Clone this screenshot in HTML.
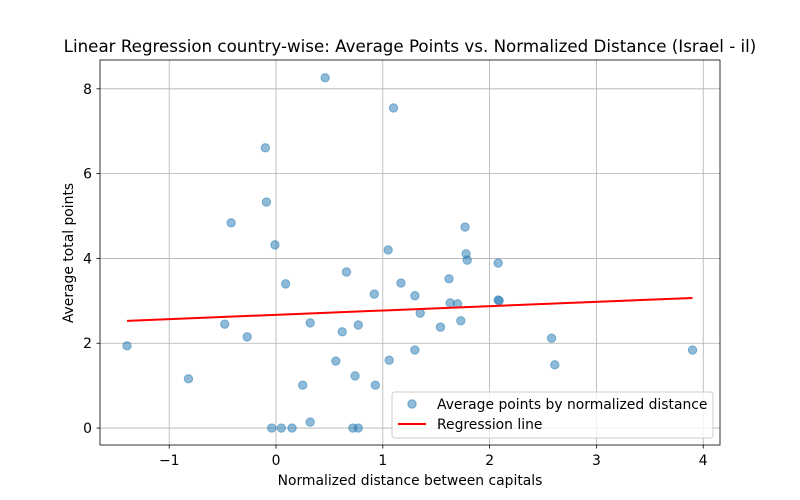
<!DOCTYPE html>
<html><head><meta charset="utf-8"><style>
body{margin:0;background:#fff;}
svg{display:block;font-family:"DejaVu Sans","Liberation Sans",sans-serif;}
</style></head><body>
<svg id="chart" width="800" height="500"></svg>
<script>
const xs=[-1.395,-0.82,-0.42,-0.48,-0.27,-0.10,-0.09,-0.01,0.09,-0.04,0.05,0.15,0.25,0.32,0.32,0.46,0.56,0.62,0.66,0.74,0.77,0.72,0.77,0.92,0.93,1.05,1.06,1.10,1.17,1.30,1.30,1.35,1.54,1.62,1.63,1.70,1.73,1.77,1.78,1.79,2.08,2.08,2.09,2.58,2.61,3.90];
const ys=[1.94,1.16,4.84,2.45,2.15,6.61,5.33,4.32,3.40,0,0,0,1.01,2.48,0.14,8.26,1.58,2.27,3.68,1.23,2.43,0,0,3.16,1.01,4.20,1.60,7.55,3.42,3.12,1.84,2.71,2.38,3.52,2.95,2.93,2.53,4.74,4.11,3.96,3.89,3.02,3.00,2.12,1.49,1.84];
const xTicks=[-1,0,1,2,3,4];
const yTicks=[0,2,4,6,8];
const regSlope=0.102, regIntercept=2.67;
const L=100,R=720,T=60,B=445,xMin=-1.648,xMax=4.157,yMin=-0.40,yMax=8.68;
const sx=v=>L+(v-xMin)/(xMax-xMin)*(R-L);
const sy=v=>B-(v-yMin)/(yMax-yMin)*(B-T);
const svg=document.getElementById('chart');
const NS='http://www.w3.org/2000/svg';
function mk(tag,attrs,parent){const e=document.createElementNS(NS,tag);for(const k in attrs)e.setAttribute(k,attrs[k]);(parent||svg).appendChild(e);return e;}
function txt(s,attrs){const e=mk('text',attrs);e.textContent=s;return e;}
xTicks.forEach(t=>{const x=sx(t);
const g=mk('line',{x1:x,x2:x,y1:T,y2:B,stroke:'#b0b0b0','stroke-width':0.8});


mk('line',{x1:x,x2:x,y1:B,y2:B+3.5,stroke:'#000','stroke-width':0.8});
const l=txt(t<0?'\u2212'+(-t):String(t),{x:x,y:B+20,'font-size':13.9,'text-anchor':'middle'});

});
yTicks.forEach(t=>{const y=sy(t);
const g=mk('line',{x1:L,x2:R,y1:y,y2:y,stroke:'#b0b0b0','stroke-width':0.8});


mk('line',{x1:L-3.5,x2:L,y1:y,y2:y,stroke:'#000','stroke-width':0.8});
const l=txt(String(t),{x:L-8,y:y+5,'font-size':13.9,'text-anchor':'end'});

});
xs.forEach((x,i)=>{const c=mk('circle',{cx:sx(x),cy:sy(ys[i]),r:4.2,fill:'#1f77b4','fill-opacity':0.5,stroke:'#1f77b4','stroke-opacity':0.5});

});
const xa=Math.min(...xs),xb=Math.max(...xs);
const rl=mk('line',{x1:sx(xa),y1:sy(regIntercept+regSlope*xa),x2:sx(xb),y2:sy(regIntercept+regSlope*xb),stroke:'red','stroke-width':2});


const fr=mk('rect',{x:L,y:T,width:R-L,height:B-T,fill:'none',stroke:'#000','stroke-width':0.8});


const tt=txt('Linear Regression country-wise: Average Points vs. Normalized Distance (Israel - il)',{x:410,y:52,'font-size':16.7,'text-anchor':'middle'});


const xt=txt('Normalized distance between capitals',{x:410,y:485,'font-size':13.9,'text-anchor':'middle'});


const yt=txt('Average total points',{x:0,y:0,'font-size':13.9,'text-anchor':'middle',transform:'translate(73,253) rotate(-90)'});


const lg=mk('g',{});


mk('rect',{x:392,y:392,width:321,height:46,rx:3,fill:'#fff','fill-opacity':0.8,stroke:'#ccc'},lg);
const lc=mk('circle',{cx:412,cy:404,r:4.2,fill:'#1f77b4','fill-opacity':0.5,stroke:'#1f77b4','stroke-opacity':0.5},lg);


const t1=mk('text',{x:437,y:409,'font-size':13.9},lg);t1.textContent='Average points by normalized distance';
const ll=mk('line',{x1:398,x2:426,y1:424,y2:424,stroke:'red','stroke-width':2},lg);


const t2=mk('text',{x:437,y:429,'font-size':13.9},lg);t2.textContent='Regression line';
</script>
</body></html>
